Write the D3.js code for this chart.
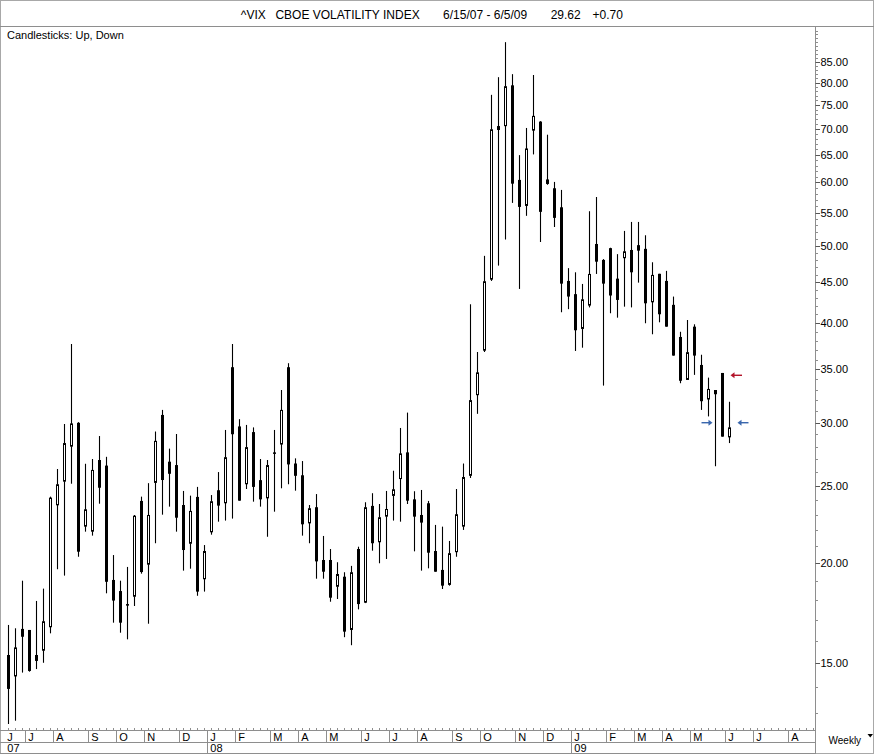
<!DOCTYPE html>
<html><head><meta charset="utf-8">
<script src="https://cdn.jsdelivr.net/npm/d3@7/dist/d3.min.js"></script>
<style>
html,body{margin:0;padding:0;background:#fff}
svg{display:block}
text{font-family:"Liberation Sans",Arial,Helvetica,sans-serif;fill:#000}
</style>
</head><body>
<svg id="chart" width="874" height="754"></svg>
<script>
// ---------- DATA (weekly candles, first week ending 2007-06-15) ----------
const startDate = "2007-06-15";
const opens = [15.35,14.43,16.55,16.50,15.35,15.54,16.63,23.64,25.31,28.00,
  29.99,22.23,21.91,26.94,26.51,19.06,18.46,17.78,18.16,23.94,
  19.92,25.22,30.68,26.81,26.55,23.66,21.16,24.22,19.10,21.87,
  24.69,23.78,35.21,29.68,25.12,29.20,25.42,24.12,27.54,28.17,
  35.21,26.67,25.78,22.44,23.51,20.19,20.19,18.69,19.24,16.50,
  20.84,17.85,23.60,21.25,22.88,24.29,25.50,27.54,24.05,22.99,
  23.78,20.72,19.62,18.79,20.65,22.23,25.74,32.48,36.93,45.33,
  70.60,70.58,79.40,60.44,56.07,69.67,71.51,60.52,59.00,55.85,
  45.16,43.47,39.32,42.06,50.24,47.98,49.64,45.46,48.22,49.38,
  50.07,49.54,42.46,46.10,45.16,42.15,38.42,33.94,39.58,35.44,
  32.08,32.97,34.63,28.76];
const highs = [16.74,16.58,19.02,16.50,17.94,18.59,24.24,26.25,29.89,37.65,
  30.05,26.65,27.02,28.87,27.19,20.48,19.02,19.79,22.99,24.24,
  25.20,29.25,31.13,27.84,29.04,24.64,24.31,24.93,21.08,24.35,
  26.02,29.38,37.65,30.31,29.81,29.60,27.02,26.94,29.38,32.97,
  35.62,27.07,26.86,23.66,24.42,21.64,20.84,20.06,19.49,19.85,
  20.98,23.85,24.48,23.73,24.64,26.12,29.55,30.89,24.62,24.71,
  23.94,22.34,22.23,21.33,24.78,26.67,42.22,36.79,48.55,77.25,
  81.29,89.93,82.00,64.92,70.21,81.80,71.60,68.86,60.09,58.72,
  46.86,46.30,44.77,55.22,57.53,48.10,49.70,48.79,52.17,53.54,
  53.54,51.52,47.66,46.10,46.49,43.17,39.00,40.35,39.85,36.50,
  34.17,32.97,34.63,31.87];
const lows = [12.58,12.70,14.59,14.63,14.74,15.01,16.34,19.66,19.30,25.16,
  20.38,21.91,21.66,23.75,18.34,16.85,16.37,16.06,17.68,19.41,
  16.80,21.19,23.01,23.55,21.91,19.58,19.69,18.21,18.43,21.72,
  22.55,22.62,22.75,23.96,24.78,23.89,23.55,21.59,23.21,24.83,
  25.12,24.66,21.66,21.19,19.13,19.13,17.90,18.04,16.16,15.79,
  17.51,17.83,20.74,20.00,20.25,22.62,22.55,23.73,20.70,19.58,
  19.71,19.52,18.57,18.75,20.38,22.02,25.58,30.78,36.79,45.16,
  47.20,50.89,56.56,44.13,54.49,65.05,50.53,59.60,52.76,41.26,
  41.63,36.90,37.25,41.84,46.08,33.39,41.14,40.62,41.93,41.84,
  44.94,39.97,38.72,40.08,39.58,36.41,33.62,33.94,34.44,31.13,
  30.55,26.46,28.82,28.29];
const closes = [13.92,15.69,16.18,14.66,15.09,16.92,24.17,25.12,28.29,29.94,
  20.68,23.37,26.18,24.87,18.96,17.96,16.85,17.70,22.94,19.50,
  22.99,28.47,25.43,25.89,22.81,20.78,23.26,18.43,20.72,23.92,
  23.62,27.16,29.02,23.96,27.96,24.93,24.05,26.55,27.46,31.13,
  26.60,25.74,22.38,23.44,20.11,19.52,18.11,19.39,16.42,19.49,
  17.78,23.51,21.19,22.84,23.39,24.76,27.46,23.96,22.88,22.49,
  20.62,19.52,18.75,20.59,23.04,25.65,32.02,34.69,45.12,69.95,
  69.80,79.20,59.79,55.91,66.18,72.70,55.12,59.74,54.17,44.81,
  43.17,39.17,42.83,46.08,47.74,44.81,43.30,42.75,49.19,46.30,
  49.28,42.34,45.95,41.02,39.58,36.41,33.86,36.77,36.41,31.92,
  33.07,32.57,28.82,29.60];
const yTickValues = [15,20,25,30,35,40,45,50,55,60,65,70,75,80,85];
const monthLetters = ["J","F","M","A","M","J","J","A","S","O","N","D"];
const titleParts = ["^VIX","CBOE VOLATILITY INDEX","6/15/07 - 6/5/09","29.62","+0.70"];
const legendText = "Candlesticks: Up, Down";
const periodLabel = "Weekly";
const markerHigh = 34.40;   // red arrow level
const markerLow = 30.00;    // blue arrow level
const axisWeeks = 116;      // weeks spanned by the time axis

// ---------- LAYOUT ----------
const svg = d3.select("#chart");
const W = 874, H = 754;
const axisX = 815.5, plotTop = 26.5, axisY = 730.5, rowY = 742.5, bottomY = 753.5;
const gray = "#8e8e8e";

const x = d3.scaleLinear().domain([0, 103]).range([8.5, 729.5]);
const y = d3.scaleLog().domain([15, 85]).range([663, 61.7]);

const parse = d3.timeParse("%Y-%m-%d");
const t0 = parse(startDate);
const weeks = d3.range(axisWeeks).map(i => d3.timeDay.offset(t0, 7 * i));

const candles = opens.map((o, i) => ({i, o, h: highs[i], l: lows[i], c: closes[i]}));

// frame
svg.append("rect").attr("x", 0.5).attr("y", 0.5).attr("width", W - 1).attr("height", H - 1)
  .attr("fill", "none").attr("stroke", "#a8a8a8");
svg.append("line").attr("x1", 0).attr("x2", W).attr("y1", plotTop).attr("y2", plotTop)
  .attr("stroke", gray);

// title
const titleX = [240.8, 275.4, 443.1, 550.7, 592.5];
svg.append("g").selectAll("text").data(titleParts).join("text")
  .attr("x", (d, i) => titleX[i]).attr("y", 18.5)
  .attr("font-size", 12).text(d => d);

svg.append("text").attr("x", 7).attr("y", 38.5).attr("font-size", 11).text(legendText);

// y axis
svg.append("line").attr("x1", axisX).attr("x2", axisX).attr("y1", plotTop).attr("y2", H)
  .attr("stroke", gray);
const minor = d3.range(13, 95).filter(v => y(v) > plotTop + 1 && y(v) < axisY - 1);
svg.append("g").selectAll("line").data(minor).join("line")
  .attr("x1", axisX).attr("x2", axisX + 2.5)
  .attr("y1", d => Math.round(y(d)) + 0.5).attr("y2", d => Math.round(y(d)) + 0.5)
  .attr("stroke", gray);
const yg = svg.append("g");
yg.selectAll("line").data(yTickValues).join("line")
  .attr("x1", axisX).attr("x2", axisX + 4.5)
  .attr("y1", d => Math.round(y(d)) + 0.5).attr("y2", d => Math.round(y(d)) + 0.5)
  .attr("stroke", "#555");
yg.selectAll("text").data(yTickValues).join("text")
  .attr("x", 820.5).attr("y", d => y(d) + 4)
  .attr("font-size", 11).text(d => d3.format(".2f")(d));

// x axis rows
svg.append("line").attr("x1", 0).attr("x2", axisX).attr("y1", axisY).attr("y2", axisY).attr("stroke", gray);
svg.append("line").attr("x1", 0).attr("x2", axisX).attr("y1", rowY).attr("y2", rowY).attr("stroke", gray);
svg.append("line").attr("x1", 0).attr("x2", axisX).attr("y1", bottomY).attr("y2", bottomY).attr("stroke", gray);

// weekly ticks
svg.append("g").selectAll("line").data(weeks).join("line")
  .attr("x1", (d, i) => x(i)).attr("x2", (d, i) => x(i))
  .attr("y1", axisY - 2.5).attr("y2", axisY).attr("stroke", gray);

// month & year boundaries
const monthStarts = weeks.map((d, i) => ({d, i}))
  .filter(o => o.i === 0 || o.d.getMonth() !== weeks[o.i - 1].getMonth());
const mg = svg.append("g");
mg.selectAll("line").data(monthStarts.filter(o => o.i > 0)).join("line")
  .attr("x1", o => x(o.i) - 4).attr("x2", o => x(o.i) - 4)
  .attr("y1", axisY).attr("y2", rowY).attr("stroke", gray);
mg.selectAll("text").data(monthStarts).join("text")
  .attr("x", o => x(o.i) - 4 + 2.8).attr("y", 740.5)
  .attr("font-size", 11).text(o => monthLetters[o.d.getMonth()]);

const yearStarts = weeks.map((d, i) => ({d, i}))
  .filter(o => o.i === 0 || o.d.getFullYear() !== weeks[o.i - 1].getFullYear());
const yrg = svg.append("g");
yrg.selectAll("line").data(yearStarts.filter(o => o.i > 0)).join("line")
  .attr("x1", o => x(o.i) - 4).attr("x2", o => x(o.i) - 4)
  .attr("y1", rowY).attr("y2", bottomY).attr("stroke", gray);
yrg.selectAll("text").data(yearStarts).join("text")
  .attr("x", o => x(o.i) - 4 + 2.8).attr("y", 751.5)
  .attr("font-size", 11).text(o => d3.timeFormat("%y")(o.d));

// period label
svg.append("text").attr("x", 828.5).attr("y", 744).attr("font-size", 10).text(periodLabel);
svg.append("path").attr("d", "M867.5,734 L873,734 L870.25,737.5 Z").attr("fill", "#000");

// candles
const cg = svg.append("g");
cg.selectAll("line").data(candles).join("line")
  .attr("x1", d => x(d.i)).attr("x2", d => x(d.i))
  .attr("y1", d => y(d.h)).attr("y2", d => y(d.l))
  .attr("stroke", "#000").attr("stroke-width", 1.1);
cg.selectAll("rect").data(candles).join("rect")
  .each(function(d) {
    const top = y(Math.max(d.o, d.c)), bot = y(Math.min(d.o, d.c));
    const up = d.c >= d.o;
    const sel = d3.select(this);
    if (up) {
      sel.attr("x", x(d.i) - 1).attr("y", top + 0.5)
        .attr("width", 2).attr("height", Math.max(1, bot - top - 1))
        .attr("fill", "#fff").attr("stroke", "#000").attr("stroke-width", 1);
    } else {
      sel.attr("x", x(d.i) - 1.5).attr("y", top)
        .attr("width", 3).attr("height", Math.max(1.5, bot - top))
        .attr("fill", "#000");
    }
  });

// level arrows
function arrow(x1, x2, yy, color) {
  const dir = x2 > x1 ? 1 : -1;
  svg.append("line").attr("x1", x1).attr("x2", x2 - dir * 3).attr("y1", yy).attr("y2", yy)
    .attr("stroke", color).attr("stroke-width", 1.4);
  svg.append("path")
    .attr("d", `M${x2},${yy} L${x2 - dir * 4},${yy - 3} L${x2 - dir * 4},${yy + 3} Z`)
    .attr("fill", color);
}
const yHi = y(markerHigh), yLo = y(markerLow);
arrow(742, 730.5, yHi, "#b3142a");
arrow(701.5, 712.5, yLo, "#3a67ad");
arrow(748.5, 737.5, yLo, "#3a67ad");
</script>
</body></html>
